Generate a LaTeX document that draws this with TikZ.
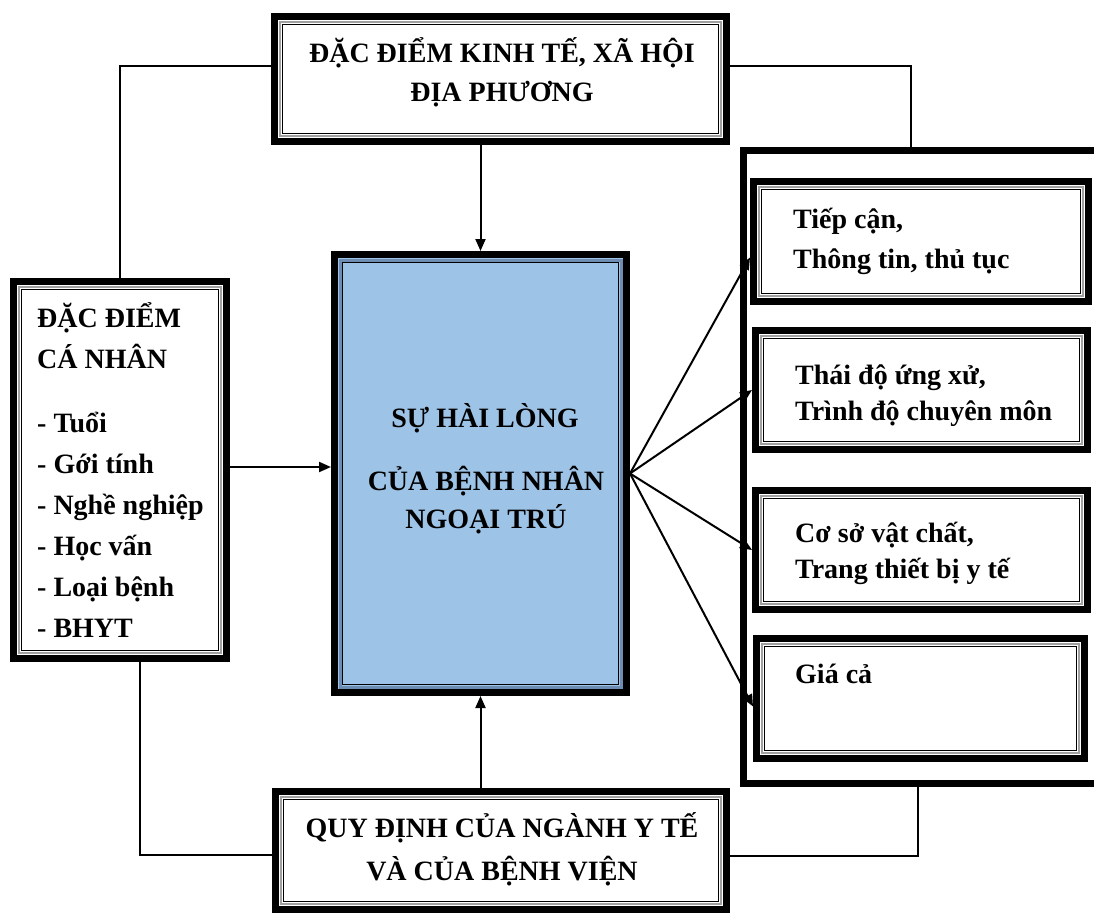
\documentclass[tikz,border=0pt]{standalone}
\usepackage{fontspec}
\setmainfont{Liberation Serif}
\usetikzlibrary{arrows.meta}
\definecolor{fillblue}{HTML}{9DC3E6}
\definecolor{bandblue}{HTML}{6E8DB3}
\definecolor{bandgray}{HTML}{A0A0A0}
\tikzset{
  box/.style={draw=black, line width=7pt, inner sep=0pt, fill=white},
  bigframe/.style={draw=black, line width=7pt, inner sep=0pt},
  txt/.style={font=\bfseries\fontsize{28}{34}\selectfont, inner sep=0pt},
  conn/.style={line width=2pt},
  arr/.style={line width=2pt, -{Triangle[width=10pt,length=12pt]}},
  bandline/.style={draw=bandgray, line width=2.5pt},
  thinline/.style={draw=black, line width=1.3pt}
}
\begin{document}
\begin{tikzpicture}[x=1pt,y=-1pt]
\useasboundingbox (0,0) rectangle (1094,915);

% right frame
\node[bigframe, minimum width=367pt, minimum height=633pt] (frame) at (926.5,466.5) {};

% boxes
\node[box, minimum width=452pt, minimum height=125pt] (top) at (500.5,79) {};
\node[box, minimum width=213pt, minimum height=377pt] (left) at (120,470) {};
\node[box, fill=fillblue, minimum width=292pt, minimum height=438pt] (center) at (480.5,473.5) {};
\node[box, minimum width=451pt, minimum height=118pt] (bottom) at (501,850.5) {};
\node[box, minimum width=335pt, minimum height=120pt] (r1) at (921,241.5) {};
\node[box, minimum width=332pt, minimum height=119pt] (r2) at (921.5,390) {};
\node[box, minimum width=332pt, minimum height=119pt] (r3) at (921.5,550) {};
\node[box, minimum width=328pt, minimum height=120pt] (r4) at (920.5,698.5) {};

% inner double lines
\foreach \n in {top,left,bottom,r1,r2,r3,r4}{
  \draw[bandline] ([shift={(8.8pt,-8.8pt)}]\n.north west) rectangle ([shift={(-8.8pt,8.8pt)}]\n.south east);
  \draw[thinline] ([shift={(11.3pt,-11.3pt)}]\n.north west) rectangle ([shift={(-11.3pt,11.3pt)}]\n.south east);
}
\draw[draw=bandblue, line width=3pt] ([shift={(9pt,-9pt)}]center.north west) rectangle ([shift={(-9pt,9pt)}]center.south east);
\draw[thinline] ([shift={(11.8pt,-11.8pt)}]center.north west) rectangle ([shift={(-11.8pt,11.8pt)}]center.south east);

% texts
\node[txt, anchor=base] (ta) at (502,63) {ĐẶC ĐIỂM KINH TẾ, XÃ HỘI};
\node[txt, anchor=base] (tb) at (502,102) {ĐỊA PHƯƠNG};

\node[txt, anchor=base west] (la) at (37,327) {ĐẶC ĐIỂM};
\node[txt, anchor=base west] (lb) at (37,368) {CÁ NHÂN};
\node[txt, anchor=base west] (lc) at (37,432) {- Tuổi};
\node[txt, anchor=base west] (ld) at (37,473) {- Gới tính};
\node[txt, anchor=base west] (le) at (37,514) {- Nghề nghiệp};
\node[txt, anchor=base west] (lf) at (37,555) {- Học vấn};
\node[txt, anchor=base west] (lg) at (37,596) {- Loại bệnh};
\node[txt, anchor=base west] (lh) at (37,637) {- BHYT};

\node[txt, anchor=base] (ca) at (485,427) {SỰ HÀI LÒNG};
\node[txt, anchor=base] (cb) at (486,490) {CỦA BỆNH NHÂN};
\node[txt, anchor=base] (cc) at (486,528) {NGOẠI TRÚ};

\node[txt, anchor=base] (ba) at (502,837) {QUY ĐỊNH CỦA NGÀNH Y TẾ};
\node[txt, anchor=base] (bb) at (502,880) {VÀ CỦA BỆNH VIỆN};

\node[txt, anchor=base west] (r1a) at (793,228) {Tiếp cận,};
\node[txt, anchor=base west] (r1b) at (793,268) {Thông tin, thủ tục};
\node[txt, anchor=base west] (r2a) at (795,384) {Thái độ ứng xử,};
\node[txt, anchor=base west] (r2b) at (795,420) {Trình độ chuyên môn};
\node[txt, anchor=base west] (r3a) at (795,542) {Cơ sở vật chất,};
\node[txt, anchor=base west] (r3b) at (795,578) {Trang thiết bị y tế};
\node[txt, anchor=base west] (r4a) at (795,683) {Giá cả};

% connectors
\draw[conn] ([yshift=13pt]top.west) -| (left.north);
\draw[conn] ([yshift=13pt]top.east) -| ([xshift=171.5pt]frame.north west);
\draw[conn] ([xshift=20pt]left.south) |- ([yshift=-4.5pt]bottom.west);
\draw[conn] ([yshift=-5.5pt]bottom.east) -| ([xshift=178.5pt]frame.south west);

% arrows
\draw[arr] (center.north |- top.south) -- (center.north);
\draw[arr] (center.south |- bottom.north) -- (center.south);
\draw[arr] ([yshift=3pt]left.east) -- ([yshift=3pt]left.east -| center.west);
\draw[arr] (center.east) -- ([yshift=-16pt]r1.west);
\draw[arr] (center.east) -- (r2.west);
\draw[arr] (center.east) -- (r3.west);
\draw[arr] (center.east) -- ([yshift=-8pt]r4.west);
\end{tikzpicture}
\end{document}
